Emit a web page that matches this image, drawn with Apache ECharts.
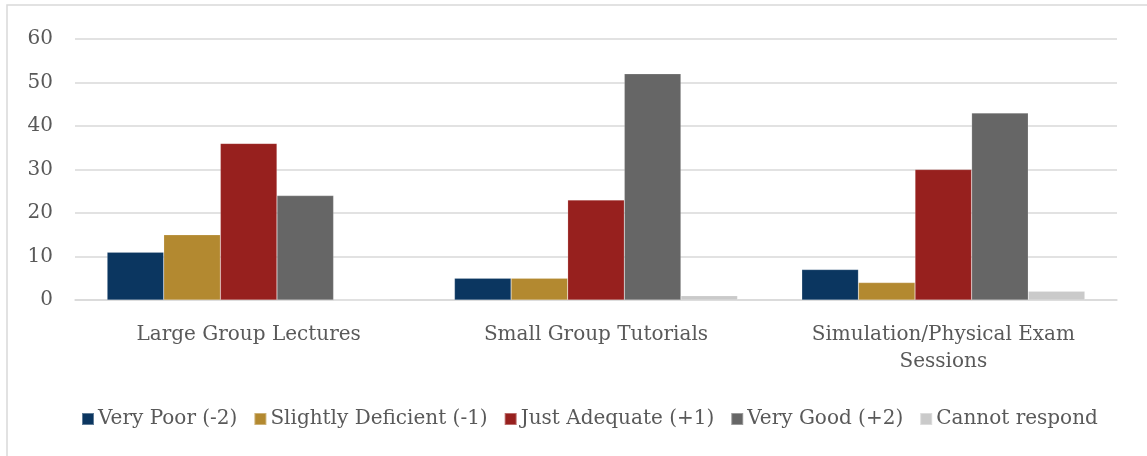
<!DOCTYPE html>
<html>
<head>
<meta charset="utf-8">
<script src="https://cdn.jsdelivr.net/npm/echarts@6/dist/echarts.min.js"></script>
<style>
  html, body { margin: 0; padding: 0; background: #ffffff; }
  #chart { width: 1147px; height: 456px; }
</style>
</head>
<body>
<div id="chart"></div>
<script>
// Session formats and rating counts
const categories = ['Large Group Lectures', 'Small Group Tutorials', 'Simulation/Physical Exam\nSessions'];
const seriesNames = ['Very Poor (-2)', 'Slightly Deficient (-1)', 'Just Adequate (+1)', 'Very Good (+2)', 'Cannot respond'];
const veryPoor = [11, 5, 7];
const slightlyDeficient = [15, 5, 4];
const justAdequate = [36, 23, 30];
const veryGood = [24, 52, 43];
const cannotRespond = [0, 1, 2];
const yTicks = [0, 10, 20, 30, 40, 50, 60];

const colors = ['#0b3660', '#b38930', '#97201e', '#666666', '#cacaca'];
const values = [veryPoor, slightlyDeficient, justAdequate, veryGood, cannotRespond];
const fontFamily = '"DejaVu Serif", "Liberation Serif", serif';

const chart = echarts.init(document.getElementById('chart'), null, { renderer: 'canvas' });
chart.setOption({
  animation: false,
  color: colors,
  textStyle: { fontFamily: fontFamily },
  graphic: [{
    type: 'rect',
    shape: { x: 7, y: 5, width: 1160, height: 470 },
    style: { fill: 'none', stroke: '#d9d9d9', lineWidth: 1.5 },
    silent: true, z: -1
  }],
  grid: { left: 75, right: 30, top: 39, bottom: 156, containLabel: false },
  legend: {
    data: seriesNames,
    top: 404,
    left: 76,
    itemWidth: 12,
    itemHeight: 12,
    itemGap: 16,
    icon: 'rect',
    textStyle: { fontFamily: fontFamily, fontSize: 20, color: '#595959', padding: [0, 0, 0, -1] }
  },
  xAxis: {
    type: 'category',
    data: categories,
    axisTick: { show: false },
    axisLine: { lineStyle: { color: '#d9d9d9', width: 1.5 } },
    axisLabel: { fontFamily: fontFamily, fontSize: 20, color: '#595959', margin: 21, lineHeight: 27 }
  },
  yAxis: {
    type: 'value',
    min: yTicks[0],
    max: yTicks[yTicks.length - 1],
    interval: 10,
    axisLine: { show: false },
    axisTick: { show: false },
    splitLine: { lineStyle: { color: '#d9d9d9', width: 1.5 } },
    axisLabel: { fontFamily: fontFamily, fontSize: 20, color: '#595959', margin: 22 }
  },
  series: seriesNames.map((name, i) => ({
    name: name,
    type: 'bar',
    data: values[i],
    barGap: '0%',
    barCategoryGap: '18.5%',
    itemStyle: { color: colors[i], borderColor: 'rgba(255,255,255,0.35)', borderWidth: 0.5 }
  }))
});
</script>
</body>
</html>
